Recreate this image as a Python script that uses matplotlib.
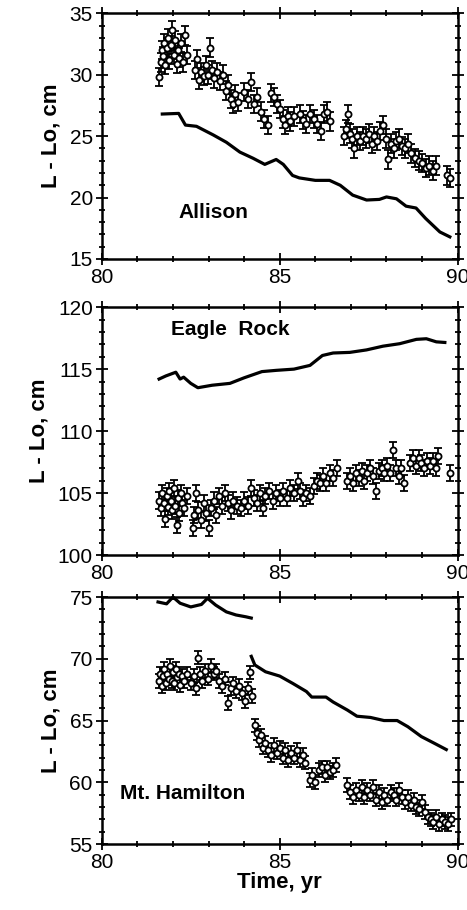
"""
Baseline length change at three VLBI/EDM sites (Allison, Eagle Rock, Mt. Hamilton)
Three stacked panels: measured points with error bars plus a model curve.
"""

import matplotlib
matplotlib.use('Agg')
import matplotlib.pyplot as plt
from matplotlib.ticker import MultipleLocator

plt.rcParams['font.family'] = ['Liberation Sans', 'DejaVu Sans']

OUTPUT_PATH = "out.png"

# --- Allison ---
allison_t = [81.62, 81.65, 81.68, 81.72, 81.75, 81.78, 81.82, 81.86, 81.90, 81.94,
             81.98, 82.02, 82.06, 82.10, 82.14, 82.18, 82.22, 82.28, 82.34, 82.40,
             82.62, 82.68, 82.74, 82.80, 82.86, 82.92, 82.98, 83.04, 83.10, 83.16,
             83.24, 83.32, 83.40, 83.50, 83.56, 83.62, 83.68, 83.74, 83.82, 84.00,
             84.10, 84.20, 84.28, 84.36, 84.46, 84.56, 84.66, 84.76, 84.84, 84.92,
             85.00, 85.08, 85.14, 85.22, 85.30, 85.40, 85.56, 85.66, 85.74, 85.84,
             85.96, 86.06, 86.16, 86.24, 86.32, 86.40, 86.80, 86.86, 86.92, 86.98,
             87.04, 87.10, 87.18, 87.26, 87.34, 87.42, 87.50, 87.58, 87.66, 87.74,
             87.82, 87.90, 87.98, 88.04, 88.12, 88.20, 88.28, 88.36, 88.44, 88.52,
             88.60, 88.70, 88.80, 88.90, 89.00, 89.10, 89.20, 89.30, 89.40, 89.70,
             89.78]
allison_v = [29.8, 31.0, 32.0, 31.5, 32.6, 30.8, 32.2, 33.0, 31.2, 32.4,
             33.6, 31.6, 32.8, 30.9, 32.0, 31.4, 32.6, 31.0, 33.2, 31.6,
             30.4, 31.3, 29.6, 30.2, 29.9, 30.8, 30.0, 32.2, 30.4, 29.7,
             30.2, 29.5, 30.0, 28.7, 29.2, 28.0, 27.6, 28.4, 27.8, 28.6,
             28.0, 29.4, 27.6, 28.2, 27.0, 26.4, 25.9, 28.5, 28.2, 27.6,
             27.2, 26.4, 25.9, 26.6, 26.2, 26.6, 26.8, 26.3, 26.0, 26.8,
             26.4, 26.0, 25.4, 26.8, 27.0, 26.2, 25.0, 25.6, 26.8, 25.2,
             24.8, 24.0, 25.0, 24.6, 25.0, 24.8, 25.2, 24.4, 25.0, 24.6,
             25.4, 25.9, 24.8, 23.1, 24.4, 24.0, 24.6, 24.8, 24.2, 24.0,
             24.4, 23.6, 23.2, 23.0, 22.8, 22.4, 22.6, 22.2, 22.6, 21.8,
             21.6]
allison_model_t = [81.70, 82.16, 82.35, 82.66, 83.13, 83.50, 83.88, 84.25, 84.58, 84.90,
                   85.10, 85.36, 85.55, 86.00, 86.40, 86.70, 87.05, 87.44, 87.80, 88.00,
                   88.28, 88.55, 88.83, 89.10, 89.50, 89.78]
allison_model_v = [26.8, 26.85, 25.9, 25.8, 25.1, 24.5, 23.7, 23.2, 22.7, 23.1,
                   22.7, 21.8, 21.6, 21.4, 21.4, 21.0, 20.2, 19.8, 19.85, 20.05,
                   19.9, 19.3, 19.15, 18.3, 17.2, 16.8]

# --- Eagle Rock ---
eagle_t = [81.62, 81.66, 81.70, 81.74, 81.78, 81.82, 81.86, 81.90, 81.94, 81.98,
           82.02, 82.06, 82.10, 82.14, 82.18, 82.22, 82.26, 82.32, 82.40, 82.56,
           82.60, 82.64, 82.70, 82.78, 82.86, 82.94, 83.00, 83.06, 83.14, 83.22,
           83.30, 83.38, 83.46, 83.54, 83.62, 83.70, 83.80, 83.90, 84.00, 84.10,
           84.20, 84.28, 84.36, 84.44, 84.52, 84.60, 84.70, 84.80, 84.90, 85.00,
           85.10, 85.20, 85.30, 85.40, 85.50, 85.58, 85.66, 85.74, 85.84, 85.96,
           86.06, 86.14, 86.22, 86.30, 86.40, 86.50, 86.60, 86.90, 86.98, 87.06,
           87.14, 87.22, 87.30, 87.38, 87.46, 87.54, 87.62, 87.70, 87.78, 87.86,
           87.94, 88.02, 88.10, 88.18, 88.26, 88.34, 88.42, 88.50, 88.66, 88.74,
           88.82, 88.90, 88.98, 89.06, 89.14, 89.22, 89.30, 89.38, 89.46, 89.78]
eagle_v = [104.4, 103.8, 105.0, 104.2, 102.9, 104.8, 103.9, 105.2, 104.4, 103.6,
           105.4, 104.0, 102.4, 104.6, 103.4, 105.0, 104.2, 103.8, 104.8, 102.2,
           103.2, 105.0, 103.6, 102.8, 104.2, 103.4, 102.2, 103.8, 104.4, 103.2,
           104.8, 104.0, 105.0, 104.2, 103.6, 104.4, 104.0, 103.8, 104.4, 104.0,
           105.4, 104.6, 104.2, 105.0, 103.8, 104.8, 105.2, 104.4, 105.0, 104.6,
           105.2, 104.6, 105.4, 105.0, 106.0, 105.2, 104.6, 105.0, 104.8, 105.6,
           106.0, 105.8, 106.4, 105.8, 106.6, 106.2, 107.0, 106.0, 106.4, 105.8,
           106.6, 106.2, 106.8, 106.0, 106.6, 107.0, 106.4, 105.2, 106.8, 107.0,
           106.6, 107.2, 106.6, 108.5, 107.0, 106.4, 107.0, 105.8, 107.4, 107.8,
           107.2, 107.8, 107.4, 107.0, 107.6, 107.2, 107.6, 107.0, 108.0, 106.6]
eagle_model_t = [81.61, 81.80, 82.08, 82.20, 82.30, 82.50, 82.70, 83.10, 83.60, 84.00,
                 84.50, 84.90, 85.40, 85.85, 86.20, 86.50, 86.97, 87.44, 87.90, 88.37,
                 88.84, 89.12, 89.40, 89.64]
eagle_model_v = [114.2, 114.45, 114.75, 114.2, 114.35, 113.85, 113.5, 113.7, 113.85, 114.3,
                 114.8, 114.9, 115.0, 115.3, 116.1, 116.3, 116.35, 116.55, 116.85, 117.05,
                 117.4, 117.45, 117.2, 117.15]

# --- Mt. Hamilton ---
hamilton_t = [81.60, 81.64, 81.68, 81.72, 81.76, 81.80, 81.84, 81.88, 81.92, 81.96,
              82.00, 82.04, 82.08, 82.12, 82.16, 82.20, 82.26, 82.32, 82.40, 82.50,
              82.58, 82.64, 82.70, 82.76, 82.82, 82.90, 82.98, 83.06, 83.14, 83.22,
              83.30, 83.38, 83.46, 83.54, 83.62, 83.70, 83.78, 83.86, 83.94, 84.02,
              84.10, 84.16, 84.22, 84.30, 84.36, 84.42, 84.48, 84.54, 84.60, 84.68,
              84.76, 84.84, 84.92, 85.00, 85.08, 85.16, 85.24, 85.32, 85.40, 85.48,
              85.56, 85.64, 85.72, 85.84, 85.92, 86.00, 86.10, 86.18, 86.26, 86.34,
              86.42, 86.50, 86.58, 86.90, 86.98, 87.06, 87.14, 87.22, 87.30, 87.38,
              87.46, 87.54, 87.62, 87.70, 87.78, 87.86, 87.94, 88.02, 88.12, 88.20,
              88.28, 88.36, 88.44, 88.52, 88.60, 88.68, 88.76, 88.84, 88.92, 89.00,
              89.08, 89.16, 89.24, 89.32, 89.40, 89.48, 89.56, 89.64, 89.72, 89.80]
hamilton_v = [68.2, 68.8, 67.8, 68.6, 69.2, 68.0, 68.8, 68.4, 69.4, 68.2,
              68.9, 68.0, 69.2, 68.5, 68.8, 67.9, 68.6, 68.2, 68.8, 68.0,
              68.6, 67.6, 70.1, 68.8, 68.2, 69.0, 68.4, 69.4, 68.8, 69.0,
              68.2, 67.8, 68.4, 66.4, 67.6, 68.0, 67.4, 67.8, 67.2, 66.6,
              67.6, 68.9, 67.0, 64.6, 64.0, 63.4, 63.8, 62.8, 63.2, 62.6,
              62.2, 63.0, 62.4, 62.8, 62.0, 62.6, 61.8, 62.4, 62.0, 62.6,
              61.8, 62.2, 61.6, 60.2, 60.6, 60.0, 61.0, 61.2, 60.6, 61.2,
              60.8, 61.0, 61.4, 59.8, 59.2, 58.8, 59.4, 59.0, 59.6, 58.8,
              59.4, 59.0, 59.6, 58.6, 59.2, 58.4, 59.0, 58.6, 59.2, 59.0,
              58.6, 59.4, 58.8, 58.4, 58.8, 58.2, 58.6, 58.0, 57.8, 58.4,
              57.6, 57.2, 57.0, 56.8, 57.2, 56.6, 57.0, 56.8, 56.6, 57.0]
# モデル曲線は84.2年で不連続（2区間）
hamilton_model1_t = [81.58, 81.82, 82.00, 82.20, 82.50, 82.80, 82.97, 83.20, 83.50, 83.77,
                     84.05, 84.20]
hamilton_model1_v = [74.6, 74.45, 75.0, 74.5, 74.2, 74.4, 74.9, 74.35, 73.8, 73.55,
                     73.4, 73.3]
hamilton_model2_t = [84.20, 84.30, 84.60, 85.00, 85.37, 85.75, 85.90, 86.30, 86.50, 86.90,
                     87.17, 87.55, 87.93, 88.30, 88.60, 88.98, 89.35, 89.68]
hamilton_model2_v = [70.2, 69.5, 68.95, 68.6, 68.0, 67.35, 66.9, 66.9, 66.5, 65.85,
                     65.35, 65.25, 65.0, 65.0, 64.5, 63.7, 63.15, 62.65]


def style_axis(ax, ylim, ylabel='L - Lo, cm'):
    """軸の体裁（枠・目盛）を揃える"""
    ax.set_xlim(80, 90)
    ax.set_ylim(*ylim)
    ax.xaxis.set_major_locator(MultipleLocator(5))
    ax.xaxis.set_minor_locator(MultipleLocator(1))
    ax.yaxis.set_major_locator(MultipleLocator(5))
    ax.yaxis.set_minor_locator(MultipleLocator(1))
    ax.tick_params(which='both', direction='inout', top=True, right=True,
                   width=1.3, labelsize=15)
    ax.tick_params(which='major', length=9, pad=2)
    ax.tick_params(which='minor', length=4)
    for spine in ax.spines.values():
        spine.set_linewidth(1.8)
    ax.set_ylabel(ylabel, fontsize=16, fontweight='bold', labelpad=6)


def draw_points(ax, t, v, err):
    ax.errorbar(t, v, yerr=err, fmt='o', ms=4.4, mfc='white', mec='black', mew=1.3,
                ecolor='black', elinewidth=1.3, capsize=2.6, capthick=1.3, zorder=3)


def main() -> None:
    fig = plt.figure(figsize=(4.67, 9.10), dpi=100)
    left, width = 0.218, 0.762
    ax1 = fig.add_axes([left, 0.7154, width, 0.270])
    ax2 = fig.add_axes([left, 0.3900, width, 0.2725])
    ax3 = fig.add_axes([left, 0.0725, width, 0.2714])

    # Allison
    draw_points(ax1, allison_t, allison_v, 0.75)
    ax1.plot(allison_model_t, allison_model_v, color='black', lw=2.3)
    ax1.text(82.15, 18.8, 'Allison', fontsize=15, fontweight='bold', va='center')
    style_axis(ax1, (15, 35))

    # Eagle Rock
    draw_points(ax2, eagle_t, eagle_v, 0.65)
    ax2.plot(eagle_model_t, eagle_model_v, color='black', lw=2.3)
    ax2.text(81.95, 118.2, 'Eagle  Rock', fontsize=15, fontweight='bold', va='center')
    style_axis(ax2, (100, 120))

    # Mt. Hamilton
    draw_points(ax3, hamilton_t, hamilton_v, 0.55)
    ax3.plot(hamilton_model1_t, hamilton_model1_v, color='black', lw=2.3, clip_on=False)
    ax3.plot(hamilton_model2_t, hamilton_model2_v, color='black', lw=2.3)
    ax3.text(80.5, 59.1, 'Mt. Hamilton', fontsize=15, fontweight='bold', va='center')
    style_axis(ax3, (55, 75))
    ax3.set_xlabel('Time, yr', fontsize=16, fontweight='bold', labelpad=0)

    fig.savefig(OUTPUT_PATH, dpi=100)
    plt.close(fig)


if __name__ == "__main__":
    main()
